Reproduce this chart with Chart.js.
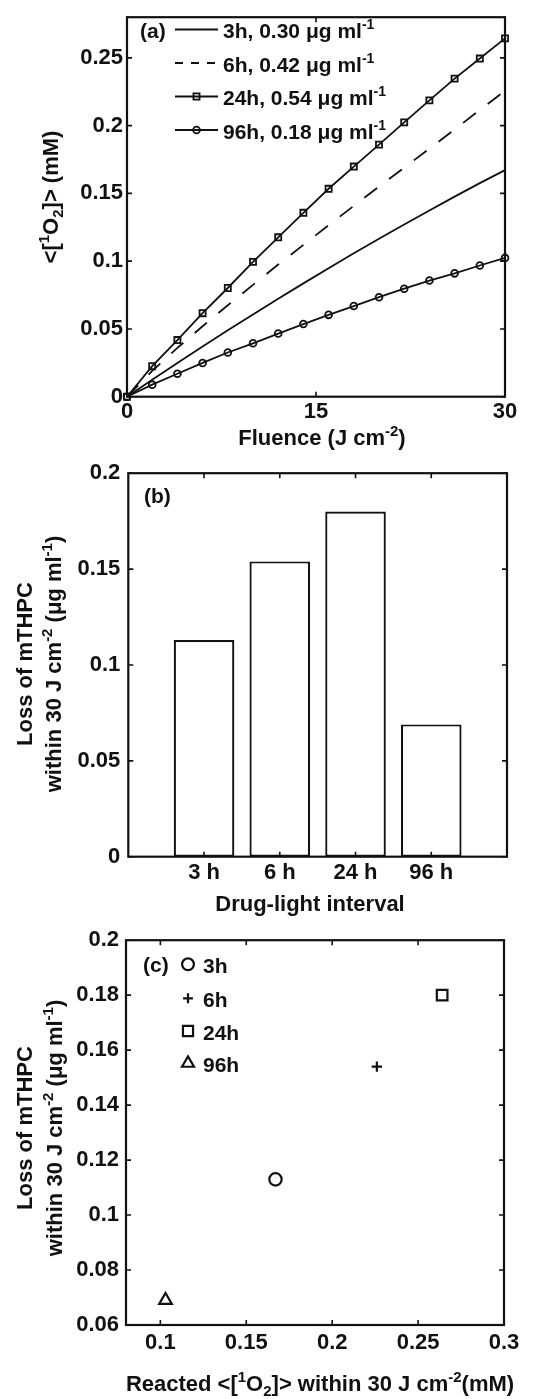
<!DOCTYPE html>
<html lang="en">
<head>
<meta charset="utf-8">
<script src="https://cdn.jsdelivr.net/npm/chart.js"></script>
<style>
  body { margin: 0; background: #fff; }
  #wrap { position: relative; width: 537px; height: 1399px; }
  canvas { position: absolute; left: 0; }
</style>
</head>
<body>
<div id="wrap">
  <canvas id="chartA" width="537" height="452" style="top:0"></canvas>
  <canvas id="chartB" width="537" height="468" style="top:452px"></canvas>
  <canvas id="chartC" width="537" height="479" style="top:920px"></canvas>
</div>
<script>
// singlet oxygen build-up vs fluence, one curve per drug-light interval
const fluence = [0, 2, 4, 6, 8, 10, 12, 14, 16, 18, 20, 22, 24, 26, 28, 30];
const o2_3h  = [0, 0.0125, 0.0248, 0.0370, 0.0490, 0.0607, 0.0722, 0.0836, 0.0948, 0.1058, 0.1165, 0.1270, 0.1374, 0.1476, 0.1576, 0.1672];
const o2_6h  = [0, 0.0190, 0.0360, 0.0520, 0.0675, 0.0825, 0.0975, 0.1120, 0.1265, 0.1408, 0.1550, 0.1690, 0.1830, 0.1972, 0.2115, 0.2258];
const o2_24h = [0, 0.0225, 0.0418, 0.0616, 0.0802, 0.0995, 0.1176, 0.1357, 0.1534, 0.1698, 0.1860, 0.2024, 0.2186, 0.2347, 0.2495, 0.2644];
const o2_96h = [0, 0.0089, 0.0169, 0.0249, 0.0326, 0.0394, 0.0466, 0.0536, 0.0604, 0.0669, 0.0734, 0.0797, 0.0857, 0.0910, 0.0968, 0.1024];

const intervals = ['3h', '6h', '24h', '96h'];
const intervalTicks = ['3 h', '6 h', '24 h', '96 h'];
const doses = ['0.30', '0.42', '0.54', '0.18'];
const drugLoss = [0.113, 0.154, 0.180, 0.069];      // ug/ml lost within 30 J/cm2
const reactedO2 = [0.167, 0.226, 0.264, 0.103];     // mM reacted within 30 J/cm2

const fluenceTicks = [0, 15, 30];
const o2Ticks = [0, 0.05, 0.1, 0.15, 0.2, 0.25];
const barSlots = [1, 2, 3, 4];
const lossTicksB = [0, 0.05, 0.1, 0.15, 0.2];
const lossTicksC = [0.06, 0.08, 0.1, 0.12, 0.14, 0.16, 0.18, 0.2];
const reactedTicks = [0.1, 0.15, 0.2, 0.25, 0.3];

const INK = '#111';
const FAMILY = '"Liberation Sans", Arial, Helvetica, sans-serif';
const TICK = 5;
const LINE_W = 1.8;

Chart.defaults.font.family = FAMILY;
Chart.defaults.color = INK;

// text with superscript (1) / subscript (-1) runs, centred vertically on y
function rich(ctx, parts, x, y, size, align = 'center', rotate = 0) {
  ctx.save();
  ctx.translate(x, y);
  if (rotate) ctx.rotate(rotate);
  ctx.fillStyle = INK;
  ctx.textBaseline = 'alphabetic';
  ctx.textAlign = 'left';
  const runs = parts.map(p => {
    const [text, pos] = Array.isArray(p) ? p : [p, 0];
    const fs = pos ? Math.round(size * 0.66) : size;
    ctx.font = `bold ${fs}px ${FAMILY}`;
    return { text, pos, fs, w: ctx.measureText(text).width };
  });
  const total = runs.reduce((s, r) => s + r.w, 0);
  let cx = align === 'center' ? -total / 2 : align === 'right' ? -total : 0;
  const base = size * 0.36;
  runs.forEach(r => {
    ctx.font = `bold ${r.fs}px ${FAMILY}`;
    const dy = r.pos > 0 ? -size * 0.42 : r.pos < 0 ? size * 0.24 : 0;
    ctx.fillText(r.text, cx, base + dy);
    cx += r.w;
  });
  ctx.restore();
}

function marker(ctx, style, x, y, r, lw) {
  ctx.save();
  ctx.strokeStyle = INK;
  ctx.lineWidth = lw;
  ctx.beginPath();
  if (style === 'circle') {
    ctx.arc(x, y, r, 0, Math.PI * 2);
  } else if (style === 'rect') {
    const h = r * Math.SQRT1_2;
    ctx.rect(x - h, y - h, 2 * h, 2 * h);
  } else if (style === 'cross') {
    ctx.moveTo(x - r, y); ctx.lineTo(x + r, y);
    ctx.moveTo(x, y - r); ctx.lineTo(x, y + r);
  } else if (style === 'triangle') {
    const s = r * Math.sin(Math.PI / 3), c = r * Math.cos(Math.PI / 3);
    ctx.moveTo(x, y - r); ctx.lineTo(x + s, y + c); ctx.lineTo(x - s, y + c);
    ctx.closePath();
  }
  ctx.stroke();
  ctx.restore();
}

// boxed axes with inward ticks on all four sides
const framePlugin = {
  id: 'frame',
  afterDraw(chart) {
    const { ctx, chartArea: a, scales: { x, y } } = chart;
    ctx.save();
    ctx.strokeStyle = INK;
    ctx.lineWidth = 1.6;
    ctx.beginPath();
    x.ticks.forEach(t => {
      const px = x.getPixelForValue(t.value);
      ctx.moveTo(px, a.bottom); ctx.lineTo(px, a.bottom - TICK);
      ctx.moveTo(px, a.top); ctx.lineTo(px, a.top + TICK);
    });
    y.ticks.forEach(t => {
      const py = y.getPixelForValue(t.value);
      ctx.moveTo(a.left, py); ctx.lineTo(a.left + TICK, py);
      ctx.moveTo(a.right, py); ctx.lineTo(a.right - TICK, py);
    });
    ctx.stroke();
    ctx.lineWidth = 2.2;
    ctx.strokeRect(a.left, a.top, a.right - a.left, a.bottom - a.top);
    ctx.restore();
  }
};

function fixedTicks(values) {
  return scale => { scale.ticks = values.map(v => ({ value: v })); };
}

function axis(values, extra) {
  return Object.assign({
    type: 'linear',
    offset: false,
    grid: { display: false, drawTicks: false },
    border: { display: false },
    afterBuildTicks: fixedTicks(values)
  }, extra);
}

function tickFont(padding, callback) {
  const t = { font: { size: 22, weight: 'bold' }, color: INK, maxRotation: 0, autoSkip: false, padding };
  if (callback) t.callback = callback;
  return t;
}

function pts(xs, ys) {
  return xs.map((v, i) => ({ x: v, y: ys[i] }));
}

const common = {
  responsive: false,
  animation: false,
  events: [],
  plugins: { legend: { display: false }, tooltip: { enabled: false } }
};

// (a) singlet oxygen vs fluence
new Chart(document.getElementById('chartA'), {
  type: 'line',
  data: {
    datasets: [
      { data: pts(fluence, o2_3h), pointRadius: 0 },
      { data: pts(fluence, o2_6h), pointRadius: 0, borderDash: [16, 15] },
      { data: pts(fluence, o2_24h), pointStyle: 'rect', pointRadius: 4.3 },
      { data: pts(fluence, o2_96h), pointStyle: 'circle', pointRadius: 3.4 }
    ].map(d => Object.assign(d, {
      borderColor: INK, borderWidth: LINE_W, fill: false, tension: 0, clip: 8,
      pointBorderColor: INK, pointBackgroundColor: 'rgba(0,0,0,0)', pointBorderWidth: 1.8
    }))
  },
  options: Object.assign({}, common, {
    layout: { padding: { left: 0, top: 9.5, right: 32, bottom: 0 } },
    scales: {
      x: axis(fluenceTicks, { min: 0, max: 30,
        afterFit: s => { s.height = 55.3; },
        ticks: tickFont(2) }),
      y: axis(o2Ticks, { min: 0, max: 0.28,
        afterFit: s => { s.width = 127; },
        ticks: tickFont(4, v => String(v)) })
    }
  }),
  plugins: [framePlugin, {
    id: 'textA',
    afterDraw(chart) {
      const ctx = chart.ctx;
      rich(ctx, ['<[', ['1', 1], 'O', ['2', -1], ']> (mM)'], 50, 197, 22, 'center', -Math.PI / 2);
      rich(ctx, ['Fluence (J cm', ['-2', 1], ')'], 322, 437, 22);
      rich(ctx, ['(a)'], 140, 30, 21, 'left');
      const rows = [29.5, 63, 96.5, 130];
      const styles = [null, null, 'rect', 'circle'];
      rows.forEach((ry, i) => {
        ctx.save();
        ctx.strokeStyle = INK;
        ctx.lineWidth = LINE_W;
        if (i === 1) ctx.setLineDash([8, 8]);
        ctx.beginPath();
        ctx.moveTo(175, ry); ctx.lineTo(218, ry);
        ctx.stroke();
        ctx.restore();
        if (styles[i]) marker(ctx, styles[i], 196.5, ry, styles[i] === 'rect' ? 4.3 : 3.4, 1.8);
        rich(ctx, [intervals[i] + ', ' + doses[i] + ' μg ml', ['-1', 1]], 223, ry + 1, 21, 'left');
      });
    }
  }]
});

// (b) photosensitiser loss per drug-light interval
new Chart(document.getElementById('chartB'), {
  type: 'bar',
  data: {
    datasets: [{
      data: pts(barSlots, drugLoss),
      backgroundColor: '#fff',
      borderColor: INK,
      borderWidth: 2.2,
      borderSkipped: false,
      barPercentage: 0.8,
      categoryPercentage: 1
    }]
  },
  options: Object.assign({}, common, {
    layout: { padding: { left: 0, top: 19.7, right: 30, bottom: 0 } },
    scales: {
      x: axis(barSlots, { min: 0, max: 5,
        afterFit: s => { s.height = 63.3; },
        ticks: tickFont(3, v => intervalTicks[barSlots.indexOf(v)] || '') }),
      y: axis(lossTicksB, { min: 0, max: 0.2,
        afterFit: s => { s.width = 128.3; },
        ticks: tickFont(8, v => String(v)) })
    }
  }),
  plugins: [framePlugin, {
    id: 'textB',
    afterDraw(chart) {
      const ctx = chart.ctx;
      rich(ctx, ['Loss of mTHPC'], 24, 212, 22, 'center', -Math.PI / 2);
      rich(ctx, ['within 30 J cm', ['-2', 1], ' (μg ml', ['-1', 1], ')'], 53, 212, 22, 'center', -Math.PI / 2);
      rich(ctx, ['Drug-light interval'], 310, 451, 22);
      rich(ctx, ['(b)'], 144, 43, 21, 'left');
    }
  }]
});

// (c) photosensitiser loss vs reacted singlet oxygen
const scatterStyles = ['circle', 'cross', 'rect', 'triangle'];
const scatterRadius = [6.2, 5.2, 7.5, 7.3];
new Chart(document.getElementById('chartC'), {
  type: 'scatter',
  data: {
    datasets: intervals.map((lab, i) => ({
      label: lab,
      data: [{ x: reactedO2[i], y: drugLoss[i] }],
      pointStyle: scatterStyles[i],
      pointRadius: scatterRadius[i],
      pointBorderColor: INK,
      pointBackgroundColor: 'rgba(0,0,0,0)',
      pointBorderWidth: 2.2
    }))
  },
  options: Object.assign({}, common, {
    layout: { padding: { left: 0, top: 16, right: 33, bottom: 0 } },
    scales: {
      x: axis(reactedTicks, { min: 0.08, max: 0.3,
        afterFit: s => { s.height = 74; },
        ticks: tickFont(5, v => String(v)) }),
      y: axis(lossTicksC, { min: 0.06, max: 0.2,
        afterFit: s => { s.width = 126; },
        ticks: tickFont(7, v => String(v)) })
    }
  }),
  plugins: [framePlugin, {
    id: 'textC',
    afterDraw(chart) {
      const ctx = chart.ctx;
      rich(ctx, ['Loss of mTHPC'], 24, 208, 22, 'center', -Math.PI / 2);
      rich(ctx, ['within 30 J cm', ['-2', 1], ' (μg ml', ['-1', 1], ')'], 54, 208, 22, 'center', -Math.PI / 2);
      rich(ctx, ['Reacted <[', ['1', 1], 'O', ['2', -1], ']> within 30 J cm', ['-2', 1], '(mM)'], 320, 463, 22);
      rich(ctx, ['(c)'], 143, 44, 21, 'left');
      const rows = [44.3, 78.3, 111, 143.3];
      rows.forEach((ry, i) => {
        marker(ctx, scatterStyles[i], 188, ry, scatterRadius[i] * 0.95, 2.2);
        rich(ctx, [intervals[i]], 203, ry + 1, 21, 'left');
      });
    }
  }]
});
</script>
</body>
</html>
